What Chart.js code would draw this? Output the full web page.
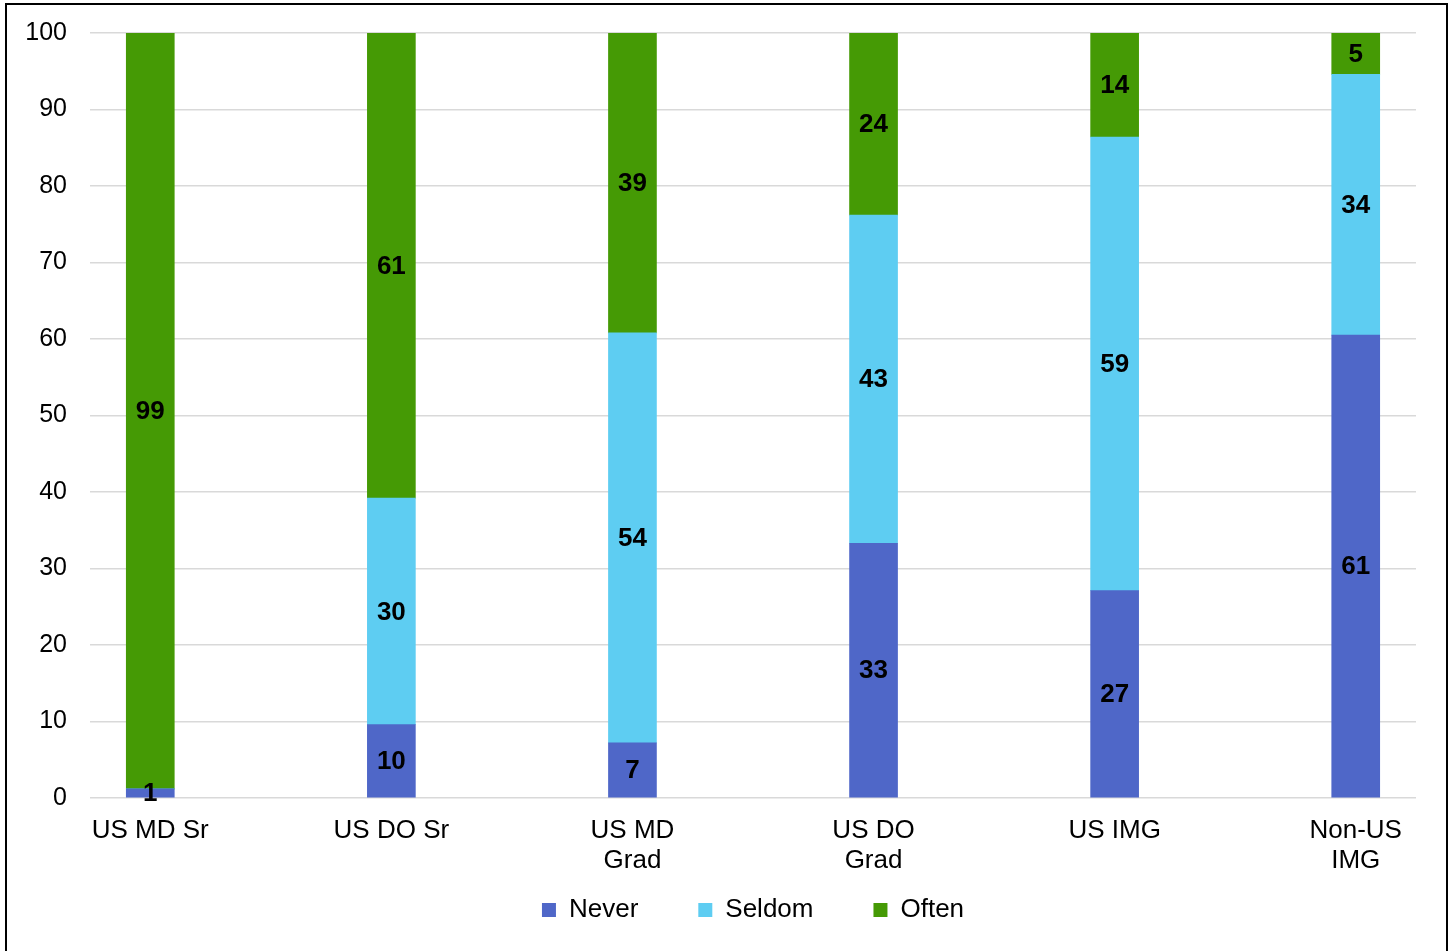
<!DOCTYPE html>
<html>
<head>
<meta charset="utf-8">
<script src="https://cdn.jsdelivr.net/npm/chart.js@4"></script>
<style>
html,body{margin:0;padding:0;background:#fff;}
#wrap{position:relative;width:1452px;height:951px;}
#frame{position:absolute;left:5px;top:3px;width:1443px;height:960px;border:2px solid #000;pointer-events:none;box-sizing:border-box;}
canvas{position:absolute;left:0;top:0;}
</style>
</head>
<body>
<div id="wrap"><canvas id="c" width="1452" height="951"></canvas><div id="frame"></div></div>
<script>
const categories = [["US MD Sr"], ["US DO Sr"], ["US MD", "Grad"], ["US DO", "Grad"], ["US IMG"], ["Non-US", "IMG"]];
const neverValues  = [1.2, 9.6, 7.2, 33.3, 27.1, 60.5];
const seldomValues = [0, 29.6, 53.6, 42.9, 59.3, 34.1];
const oftenValues  = [98.8, 60.8, 39.2, 23.8, 13.6, 5.4];
const yTicks = [0, 10, 20, 30, 40, 50, 60, 70, 80, 90, 100];
const seriesNames = ["Never", "Seldom", "Often"];
const seriesColors = ["#4F67C8", "#5ECDF2", "#459A05"];

const FONT = "'Liberation Sans', Arial, sans-serif";

function toPoints(arr){ return arr.map((v,i)=>({x:i, y:v})); }

const labelPlugin = {
  id: 'segLabels',
  afterDatasetsDraw(chart){
    const ctx = chart.ctx;
    ctx.save();
    ctx.font = "bold 26px " + FONT;
    ctx.fillStyle = "#000";
    ctx.textAlign = "center";
    ctx.textBaseline = "middle";
    chart.data.datasets.forEach((ds, di) => {
      const meta = chart.getDatasetMeta(di);
      meta.data.forEach((bar, i) => {
        const v = ds.data[i].y;
        if (!v) return;
        const cy = (bar.y + bar.base) / 2;
        ctx.fillText(String(Math.round(v)), bar.x, cy + 1);
      });
    });
    ctx.restore();
  }
};

new Chart(document.getElementById('c'), {
  type: 'bar',
  data: {
    datasets: [
      {label: seriesNames[0], data: toPoints(neverValues),  backgroundColor: seriesColors[0]},
      {label: seriesNames[1], data: toPoints(seldomValues), backgroundColor: seriesColors[1]},
      {label: seriesNames[2], data: toPoints(oftenValues),  backgroundColor: seriesColors[2]}
    ]
  },
  options: {
    responsive: false,
    animation: false,
    barThickness: 48,
    layout: {padding: {left: 0, right: 36, top: 20, bottom: 18}},
    scales: {
      x: {
        type: 'linear',
        stacked: true,
        offset: false,
        min: -0.25,
        max: 5.25,
        grid: {display: false, drawTicks: false},
        border: {display: false},
        afterBuildTicks(scale){ scale.ticks = categories.map((c,i)=>({value:i})); },
        afterFit(scale){ scale.height = 80; },
        ticks: {
          autoSkip: false,
          maxRotation: 0,
          padding: 18,
          color: "#000",
          font: {family: FONT, size: 26, lineHeight: 1.15},
          callback: (v) => categories[v] || ''
        }
      },
      y: {
        stacked: true,
        min: 0,
        max: 100,
        afterBuildTicks(scale){ scale.ticks = yTicks.map(v=>({value:v})); },
        afterFit(scale){ scale.width = 90; },
        grid: {color: "#D9D9D9", lineWidth: 1.5, drawTicks: true, tickLength: 5, tickColor: 'rgba(0,0,0,0)'},
        border: {display: false},
        ticks: {
          padding: 18,
          color: "#000",
          font: {family: FONT, size: 25, lineHeight: 1.2}
        }
      }
    },
    plugins: {
      tooltip: {enabled: false},
      legend: {
        position: 'bottom',
        fullSize: false,
        title: {display: true, text: '', font: {size: 10, lineHeight: 1}, padding: {top: -51, bottom: 0}},
        labels: {
          boxWidth: 14,
          boxHeight: 14,
          padding: 60,
          color: "#000",
          font: {family: FONT, size: 26, lineHeight: 1.2}
        }
      }
    }
  },
  plugins: [labelPlugin]
});
</script>
</body>
</html>
